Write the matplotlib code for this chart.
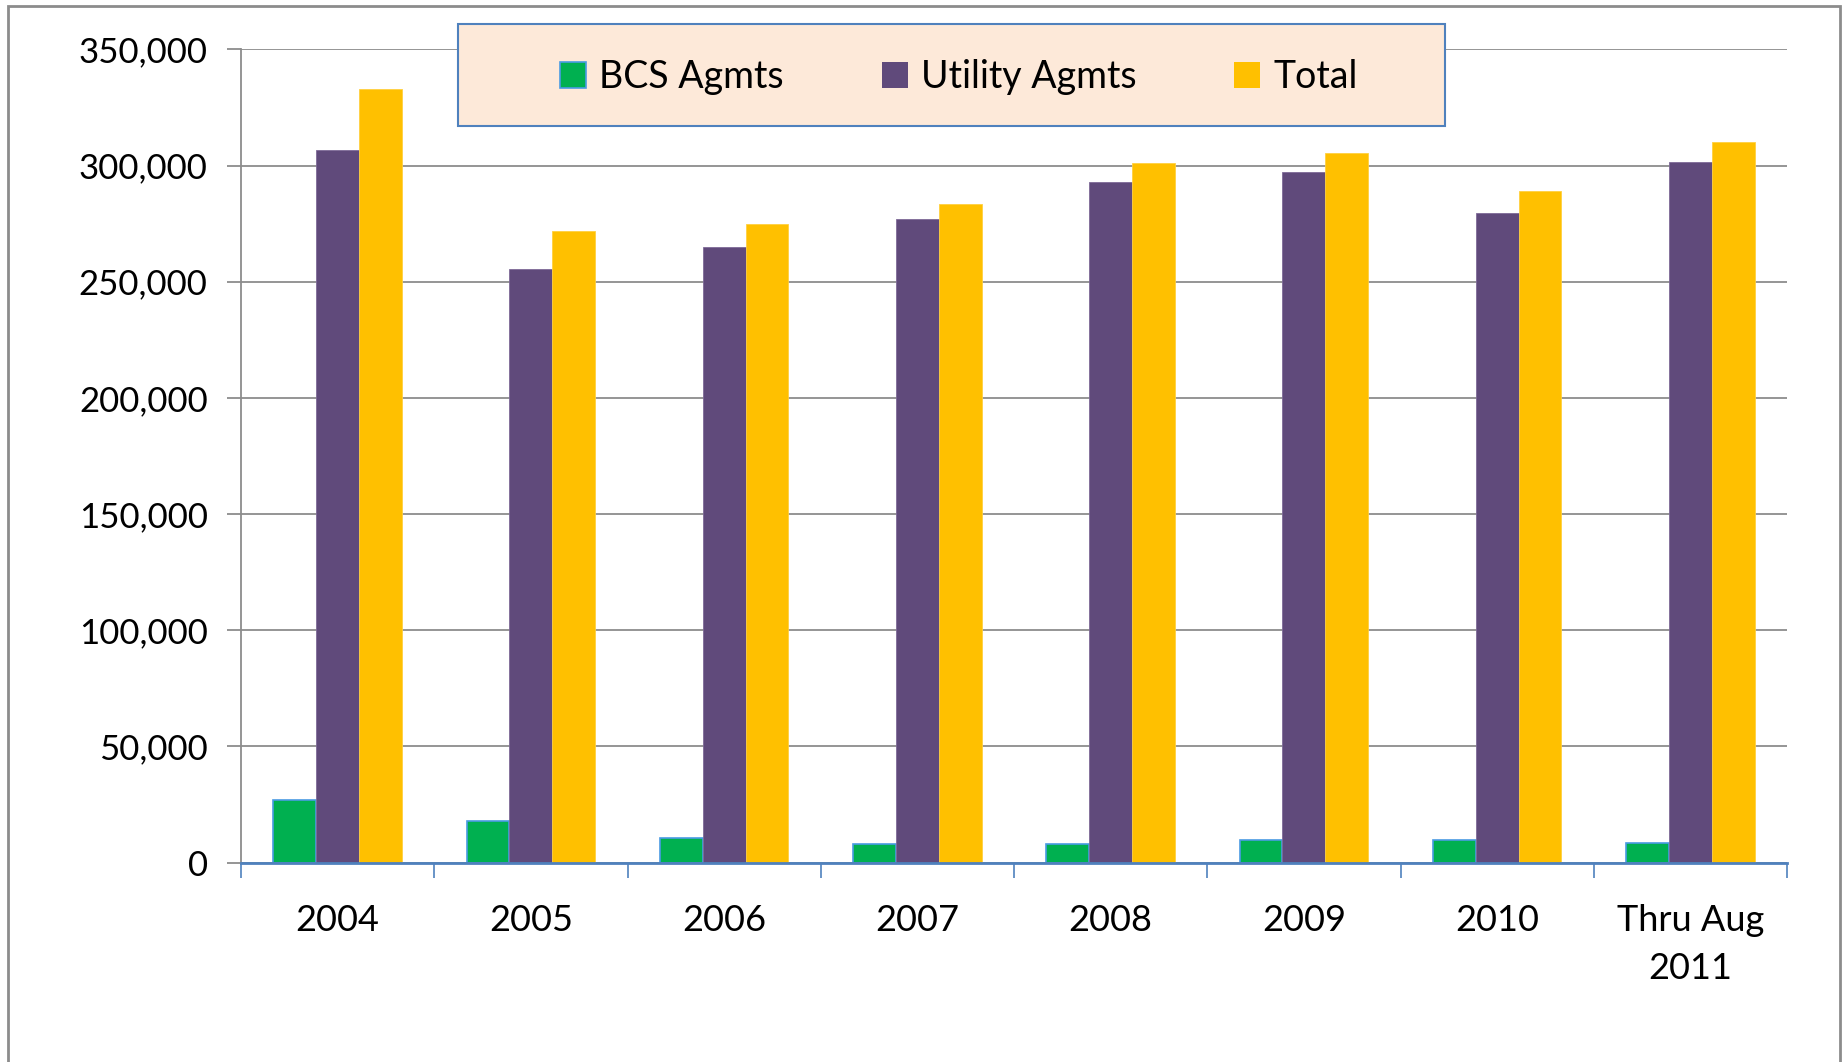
import matplotlib
matplotlib.use("Agg")
import matplotlib.pyplot as plt
import numpy as np
from matplotlib.patches import Rectangle, Patch
from matplotlib.ticker import FuncFormatter

categories = ["2004", "2005", "2006", "2007", "2008", "2009", "2010", "Thru Aug\n2011"]
bcs_agmts = [26800, 17700, 10600, 8100, 8100, 9600, 9600, 8600]
utility_agmts = [306900, 255300, 264900, 277000, 292800, 297300, 279600, 301400]
total = [332800, 272000, 275000, 283600, 300900, 305400, 289200, 310000]
series_names = ["BCS Agmts", "Utility Agmts", "Total"]
y_ticks = [0, 50000, 100000, 150000, 200000, 250000, 300000, 350000]

plt.rcParams['font.family'] = ['Lato', 'DejaVu Sans']
FS = 26
YFS = 25
LFS = 27

fig = plt.figure(figsize=(18.45, 10.62), dpi=100)
fig.patch.set_facecolor('white')
ax = fig.add_axes([241/1845, 1-862.5/1062, (1787-241)/1845, (862.5-49.4)/1062])

x = np.arange(len(categories))
w = 0.222
ax.bar(x - w, bcs_agmts, w, color='#00B050', edgecolor='#4A9BE3', linewidth=1.2, zorder=3)
ax.bar(x, utility_agmts, w, color='#604A7B', edgecolor='#7E6A98', linewidth=0.6, zorder=3)
ax.bar(x + w, total, w, color='#FFC000', edgecolor='#FFD040', linewidth=0.6, zorder=3)

ax.set_xlim(-0.5, len(categories) - 0.5)
ax.set_ylim(0, 350000)
ax.set_yticks(y_ticks)
ax.yaxis.set_major_formatter(FuncFormatter(lambda v, p: f"{int(v):,}"))
ax.grid(axis='y', color='#8C8C8C', linewidth=1.3, zorder=0)
ax.set_axisbelow(True)

ax.set_xticks(np.arange(len(categories) + 1) - 0.5)
ax.set_xticklabels([])
ax.set_xticks(x, minor=True)
ax.set_xticklabels(categories, minor=True, fontsize=FS, linespacing=1.55)
ax.tick_params(axis='x', which='major', direction='out', length=11, color='#4F81BD', width=1.2)
ax.tick_params(axis='x', which='minor', length=0, pad=30)
ax.tick_params(axis='y', direction='out', length=10, color='#8C8C8C', width=1.3, labelsize=YFS, pad=14)

for s in ['top', 'right']:
    ax.spines[s].set_visible(False)
ax.spines['left'].set_color('#8C8C8C')
ax.spines['left'].set_linewidth(1.3)
ax.spines['bottom'].set_color('#4F81BD')
ax.spines['bottom'].set_linewidth(2.0)
ax.spines['bottom'].set_zorder(4)

# chart frame
fig.patches.append(Rectangle((8/1845, -0.02), (1840-8)/1845, 1-6/1062 + 0.02,
                             transform=fig.transFigure, fill=False,
                             edgecolor='#8C8C8C', linewidth=2, zorder=0))

# legend box
lx0, ly0, lx1, ly1 = 458, 23.5, 1445, 126
fig.patches.append(Rectangle((lx0/1845, 1-ly1/1062), (lx1-lx0)/1845, (ly1-ly0)/1062,
                             transform=fig.transFigure, facecolor='#FDE9D9',
                             edgecolor='#4F81BD', linewidth=1.5, zorder=5))
handles = [Patch(facecolor='#00B050', edgecolor='#4A9BE3', linewidth=1.2),
           Patch(facecolor='#604A7B', edgecolor='none'),
           Patch(facecolor='#FFC000', edgecolor='none')]
leg = fig.legend(handles, series_names, loc='center',
                 bbox_to_anchor=((lx0+lx1)/2/1845 + 0.004, 1-(ly0+ly1)/2/1062 - 0.002),
                 ncol=3, frameon=False, fontsize=LFS, handlelength=0.7, handleheight=0.7,
                 handletextpad=0.35, columnspacing=2.6)
leg.set_zorder(6)

fig.savefig("out.png", dpi=100)
